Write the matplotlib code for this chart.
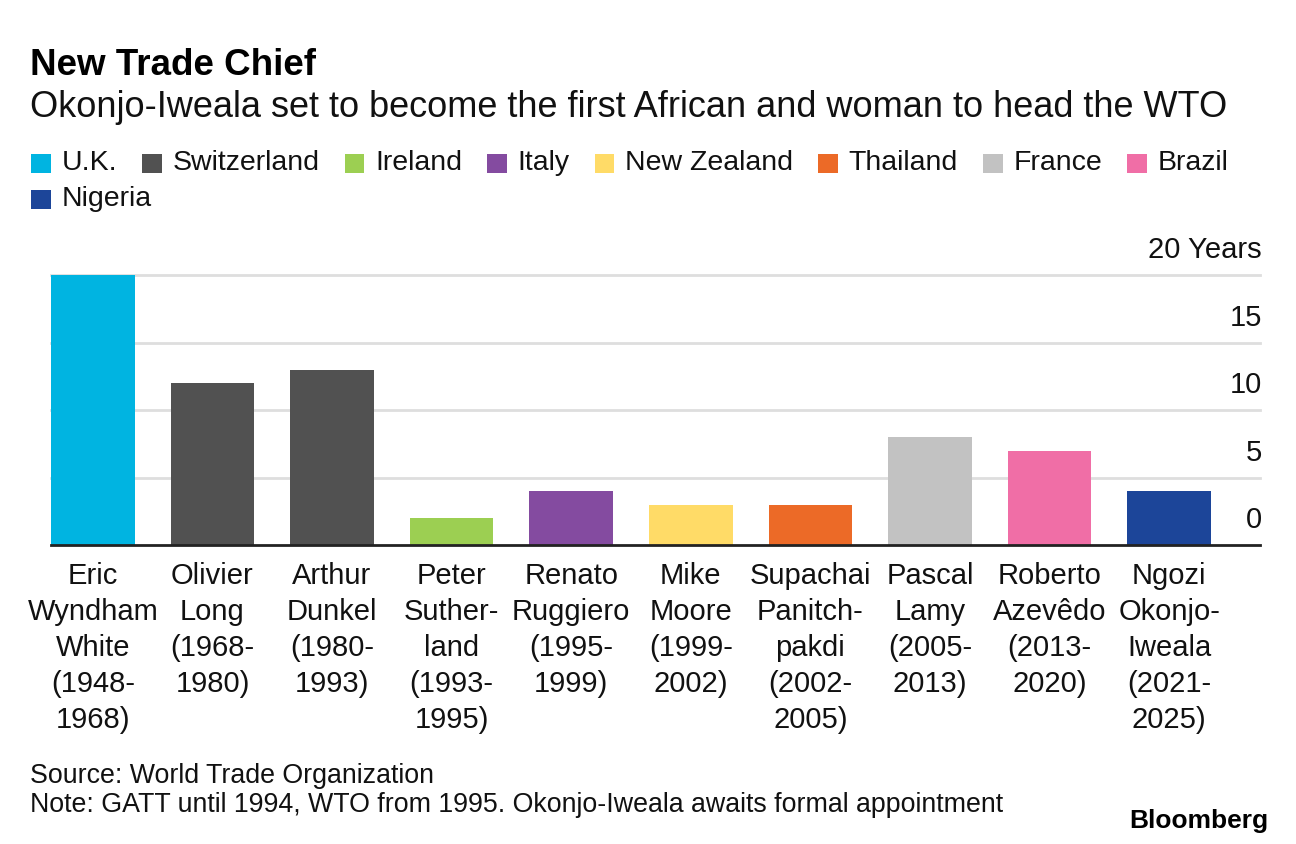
import matplotlib
matplotlib.use("Agg")
import matplotlib.pyplot as plt
from matplotlib.patches import Rectangle

plt.rcParams["font.family"] = ["Liberation Sans", "DejaVu Sans"]

# heads of GATT / WTO and how long they served
names = ["Eric\nWyndham\nWhite", "Olivier\nLong", "Arthur\nDunkel", "Peter\nSuther-\nland",
         "Renato\nRuggiero", "Mike\nMoore", "Supachai\nPanitch-\npakdi", "Pascal\nLamy",
         "Roberto\nAzevêdo", "Ngozi\nOkonjo-\nIweala"]
terms = ["(1948-\n1968)", "(1968-\n1980)", "(1980-\n1993)", "(1993-\n1995)", "(1995-\n1999)",
         "(1999-\n2002)", "(2002-\n2005)", "(2005-\n2013)", "(2013-\n2020)", "(2021-\n2025)"]
years = [20, 12, 13, 2, 4, 3, 3, 8, 7, 4]
country = ["U.K.", "Switzerland", "Switzerland", "Ireland", "Italy", "New Zealand",
           "Thailand", "France", "Brazil", "Nigeria"]

legend_countries = ["U.K.", "Switzerland", "Ireland", "Italy", "New Zealand",
                    "Thailand", "France", "Brazil", "Nigeria"]
legend_colors = ["#00b4e1", "#515151", "#9ccf52", "#844ba0", "#ffdb67",
                 "#ec6a27", "#c2c2c2", "#f06ea6", "#1c4599"]
y_ticks = [0, 5, 10, 15, 20]

W, H = 1296, 844
fig = plt.figure(figsize=(W / 100, H / 100), dpi=100)


def fx(x):
    return x / W


def fy(y):
    return 1 - y / H


ax = fig.add_axes([fx(51), fy(545), (1260 - 51) / W, (545 - 275) / H])
colmap = dict(zip(legend_countries, legend_colors))
xs = list(range(len(years)))
ax.bar(xs, years, width=0.7, color=[colmap[c] for c in country], zorder=2)
ax.set_xlim(-0.35, 9.76)
ax.set_ylim(0, 20)

for t in y_ticks[1:]:
    ax.axhline(t, color="#dedede", lw=2, zorder=1, clip_on=False)
ax.axhline(0, color="#222222", lw=2, zorder=3, clip_on=False)

for t in y_ticks:
    lab = "20 Years" if t == 20 else str(t)
    ax.annotate(lab, xy=(1, t), xycoords=("axes fraction", "data"),
                xytext=(1.5, 12), textcoords="offset points",
                ha="right", va="baseline", fontsize=21, color="#111111")

labels = [n + "\n" + t for n, t in zip(names, terms)]
ax.set_xticks(xs, labels, fontsize=21, linespacing=1.37, color="#111111")
ax.tick_params(axis="x", length=0, pad=12)
ax.set_yticks([])
for s in ax.spines.values():
    s.set_visible(False)

# titles
fig.text(fx(30), fy(75), "New Trade Chief", fontsize=26.5, fontweight="bold",
         va="baseline", color="#000000")
fig.text(fx(30), fy(117),
         "Okonjo-Iweala set to become the first African and woman to head the WTO",
         fontsize=26, va="baseline", color="#111111")

# legend laid out left to right, wrapping like the original
renderer = fig.canvas.get_renderer()
x = 31
row = 0
row_y = [163.5, 199.5]
sq = 19.5
for name, col in zip(legend_countries, legend_colors):
    txt = fig.text(0, 0, name, fontsize=20.5, va="center", color="#111111")
    tw = txt.get_window_extent(renderer).width
    if x + sq + 11 + tw > 1265:
        row += 1
        x = 31
    cy = row_y[row]
    fig.add_artist(Rectangle((fx(x), fy(cy + sq / 2)), sq / W, sq / H,
                             transform=fig.transFigure, color=col, lw=0))
    txt.set_position((fx(x + sq + 11), fy(cy)))
    x += sq + 11 + tw + 25

# footer
fig.text(fx(30), fy(783), "Source: World Trade Organization", fontsize=19.3,
         va="baseline", color="#111111")
fig.text(fx(30), fy(812),
         "Note: GATT until 1994, WTO from 1995. Okonjo-Iweala awaits formal appointment",
         fontsize=19.3, va="baseline", color="#111111")
fig.text(fx(1268), fy(828), "Bloomberg", fontsize=19, fontweight="bold",
         ha="right", va="baseline", color="#000000")

fig.savefig("out.png", dpi=100)
